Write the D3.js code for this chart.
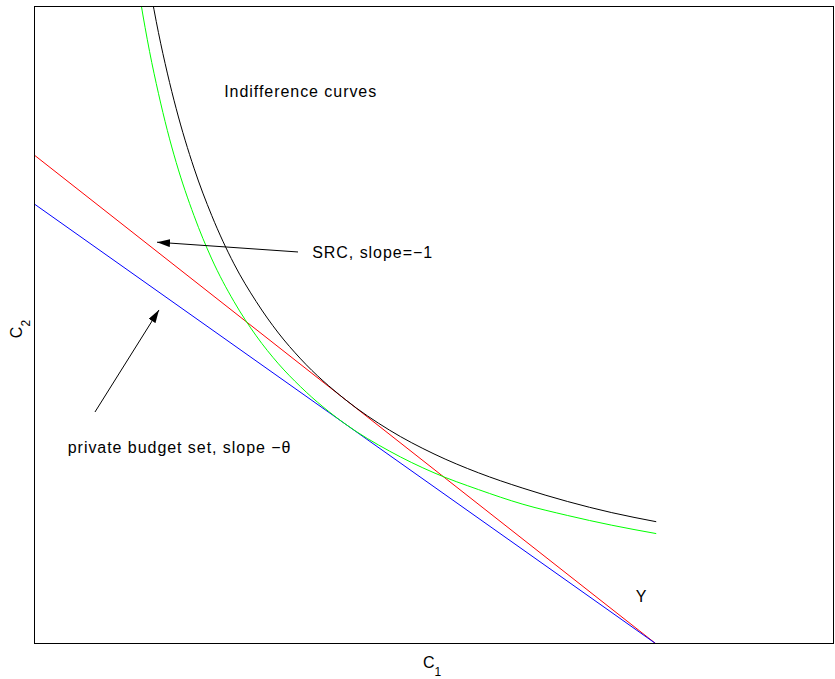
<!DOCTYPE html>
<html>
<head>
<meta charset="utf-8">
<script src="https://cdn.jsdelivr.net/npm/d3@7"></script>
<style>
  body { margin: 0; background: #fff; }
  text { font-family: "Liberation Sans", Arial, sans-serif; font-size: 16px; fill: #000; }
  .note { letter-spacing: 0.95px; }
</style>
</head>
<body>
<div id="viz"></div>
<script>
// dimensions and margin of the svg
const width = 835
const height = 679
const margin = {left: 34, top: 6, right: 1, bottom: 35}

const g_width = width - margin.left - margin.right;
const g_height = height - margin.top - margin.bottom;

// axis limits (no ticks shown)
const xLimits = [0, 9];
const yLimits = [0, 9.13];

// endowment Y and the two budget lines
const srcLine = [[0, 7], [7, 0]];          // slope = -1
const privateLine = [[0, 6.3], [7, 0]];    // slope = -theta

// indifference curves
const blackC1 = [1.3, 1.4, 1.5, 1.6, 1.8, 2.0, 2.25, 2.5, 2.75, 3.0, 3.5, 4.0, 4.5, 5.0, 5.5, 6.0, 6.5, 7.0];
const blackC2 = [9.42, 8.75, 8.17, 7.66, 6.81, 6.13, 5.44, 4.90, 4.45, 4.08, 3.50, 3.06, 2.72, 2.45, 2.23, 2.04, 1.88, 1.75];
const greenC1 = [1.15, 1.2, 1.3, 1.4, 1.5, 1.6, 1.8, 2.0, 2.25, 2.5, 2.75, 3.0, 3.5, 4.0, 4.5, 5.0, 5.5, 6.0, 6.5, 7.0];
const greenC2 = [9.59, 9.19, 8.48, 7.88, 7.35, 6.89, 6.13, 5.51, 4.90, 4.41, 4.01, 3.68, 3.15, 2.76, 2.45, 2.21, 2.00, 1.84, 1.70, 1.58];

// annotations: [x, y] in data units
const arrows = [
  {from: [2.97, 5.61], to: [1.384, 5.75]},
  {from: [0.686, 3.32], to: [1.406, 4.78]}
];
const labels = [
  {text: "Indifference curves", at: [2.14, 7.83]},
  {text: "SRC, slope=\u22121", at: [3.13, 5.52]},
  {text: "private budget set, slope \u2212\u03b8", at: [0.38, 2.73]},
  {text: "Y", at: [6.77, 0.60]}
];

var svg = d3.select("#viz")
  .append("svg")
  .attr("width", width)
  .attr("height", height);

var g = svg.append("g")
  .attr("transform", "translate(" + margin.left + "," + margin.top + ")");

const x = d3.scaleLinear().domain(xLimits).range([0, g_width]);
const y = d3.scaleLinear().domain(yLimits).range([g_height, 0]);

// clip to axes box
svg.append("defs").append("clipPath")
  .attr("id", "clip")
  .append("rect")
  .attr("width", g_width)
  .attr("height", g_height);

var plot = g.append("g").attr("clip-path", "url(#clip)");

const line = d3.line()
  .x(function(d) { return x(d[0]) })
  .y(function(d) { return y(d[1]) });

const curve = d3.line()
  .x(function(d) { return x(d[0]) })
  .y(function(d) { return y(d[1]) })
  .curve(d3.curveMonotoneX);

plot.append("path").datum(srcLine)
  .attr("d", line).attr("fill", "none").attr("stroke", "#ff0000").attr("stroke-width", 1);
plot.append("path").datum(privateLine)
  .attr("d", line).attr("fill", "none").attr("stroke", "#0000ff").attr("stroke-width", 1);

plot.append("path").datum(d3.zip(greenC1, greenC2))
  .attr("d", curve).attr("fill", "none").attr("stroke", "#00ff00").attr("stroke-width", 1);
plot.append("path").datum(d3.zip(blackC1, blackC2))
  .attr("d", curve).attr("fill", "none").attr("stroke", "#000").attr("stroke-width", 1);

// arrows
svg.select("defs").append("marker")
  .attr("id", "head")
  .attr("viewBox", "0 0 13 8")
  .attr("refX", 13)
  .attr("refY", 4)
  .attr("markerWidth", 13)
  .attr("markerHeight", 8)
  .attr("markerUnits", "userSpaceOnUse")
  .attr("orient", "auto")
  .append("path")
  .attr("d", "M0,0L13,4L0,8Z")
  .attr("fill", "#000");

g.selectAll(".arrow")
  .data(arrows)
  .enter()
  .append("line")
  .attr("class", "arrow")
  .attr("x1", function(d) { return x(d.from[0]) })
  .attr("y1", function(d) { return y(d.from[1]) })
  .attr("x2", function(d) { return x(d.to[0]) })
  .attr("y2", function(d) { return y(d.to[1]) })
  .attr("stroke", "#000")
  .attr("stroke-width", 1)
  .attr("marker-end", "url(#head)");

g.selectAll(".note")
  .data(labels)
  .enter()
  .append("text")
  .attr("class", "note")
  .attr("x", function(d) { return x(d.at[0]) })
  .attr("y", function(d) { return y(d.at[1]) })
  .text(function(d) { return d.text });

// axes box
g.append("rect")
  .attr("x", 0.5)
  .attr("y", 0.5)
  .attr("width", g_width - 1)
  .attr("height", g_height - 1)
  .attr("fill", "none")
  .attr("stroke", "#000")
  .attr("stroke-width", 1);

// axis labels
var xl = g.append("text")
  .attr("x", g_width / 2 - 2)
  .attr("y", g_height + 24)
  .attr("text-anchor", "middle");
xl.append("tspan").text("C");
xl.append("tspan").attr("dy", 8).style("font-size", "12px").text("1");

var yl = g.append("text")
  .attr("transform", "translate(-12," + (g_height / 2 + 4) + ")rotate(-90)")
  .attr("text-anchor", "middle");
yl.append("tspan").text("C");
yl.append("tspan").attr("dy", 8).style("font-size", "12px").text("2");
</script>
</body>
</html>
